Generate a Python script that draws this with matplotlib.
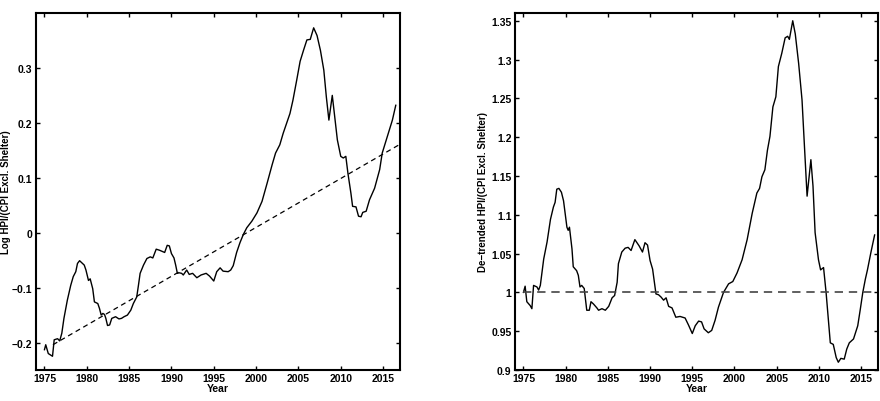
import matplotlib
matplotlib.use('Agg')
import matplotlib.pyplot as plt

# Log HPI / CPI excl. shelter (panel izquierdo)
log_years = [1975.0, 1975.15, 1975.45, 1975.95, 1976.15, 1976.55, 1976.8, 1977.05, 1977.3, 1977.7,
             1978.1, 1978.4, 1978.7, 1978.9, 1979.15, 1979.7, 1979.9, 1980.2, 1980.4, 1980.7,
             1980.9, 1981.3, 1981.5, 1981.7, 1981.9, 1982.1, 1982.25, 1982.45, 1982.7, 1982.95,
             1983.4, 1983.8, 1984.1, 1984.4, 1984.8, 1985.2, 1985.5, 1985.9, 1986.1, 1986.3,
             1986.7, 1987.1, 1987.5, 1987.8, 1988.2, 1988.6, 1989.2, 1989.5, 1989.75, 1990.0,
             1990.3, 1990.5, 1990.7, 1990.9, 1991.2, 1991.4, 1991.8, 1992.1, 1992.5, 1993.0,
             1993.5, 1994.1, 1994.5, 1995.0, 1995.35, 1995.75, 1996.1, 1996.7, 1997.0, 1997.3,
             1997.7, 1998.1, 1998.5, 1998.9, 1999.5, 2000.1, 2000.7, 2001.3, 2001.9, 2002.3,
             2002.8, 2003.2, 2003.6, 2004.0, 2004.35, 2004.8, 2005.2, 2005.6, 2006.0, 2006.4,
             2006.8, 2007.2, 2007.6, 2008.0, 2008.3, 2008.6, 2009.0, 2009.2, 2009.6, 2010.0,
             2010.3, 2010.6, 2010.85, 2011.2, 2011.4, 2011.8, 2012.1, 2012.4, 2012.6, 2013.0,
             2013.4, 2014.0, 2014.6, 2014.9, 2015.5, 2016.1, 2016.5]
log_hpi = [-0.213, -0.204, -0.220, -0.225, -0.195, -0.193, -0.197, -0.183, -0.156, -0.123,
           -0.096, -0.080, -0.071, -0.056, -0.051, -0.059, -0.068, -0.087, -0.084, -0.102,
           -0.126, -0.129, -0.138, -0.150, -0.147, -0.149, -0.156, -0.169, -0.168, -0.156,
           -0.153, -0.157, -0.156, -0.153, -0.150, -0.141, -0.129, -0.117, -0.096, -0.074,
           -0.059, -0.047, -0.044, -0.046, -0.030, -0.032, -0.036, -0.023, -0.024, -0.038,
           -0.046, -0.059, -0.074, -0.073, -0.074, -0.077, -0.068, -0.076, -0.074, -0.082,
           -0.077, -0.074, -0.079, -0.088, -0.071, -0.064, -0.070, -0.071, -0.068, -0.060,
           -0.036, -0.018, -0.003, 0.009, 0.021, 0.036, 0.057, 0.090, 0.124, 0.145,
           0.160, 0.181, 0.199, 0.217, 0.241, 0.278, 0.312, 0.332, 0.351, 0.352,
           0.373, 0.359, 0.332, 0.296, 0.247, 0.205, 0.250, 0.223, 0.169, 0.139,
           0.136, 0.139, 0.108, 0.072, 0.048, 0.047, 0.030, 0.029, 0.037, 0.039,
           0.060, 0.081, 0.115, 0.145, 0.175, 0.205, 0.232]

# Tendencia lineal (extremos de la recta punteada)
trend_years = [1976.0, 2017.0]
trend_vals = [-0.204, 0.161]

# Serie sin tendencia (panel derecho)
det_years = [1975.0, 1975.2, 1975.4, 1975.8, 1976.0, 1976.2, 1976.6, 1976.8, 1977.0, 1977.2,
             1977.4, 1977.8, 1978.2, 1978.55, 1978.75, 1978.95, 1979.2, 1979.5, 1979.75, 1980.15,
             1980.3, 1980.45, 1980.75, 1980.9, 1981.3, 1981.5, 1981.7, 1981.9, 1982.2, 1982.5,
             1982.8, 1983.0, 1983.3, 1983.7, 1983.9, 1984.3, 1984.7, 1985.1, 1985.5, 1985.8,
             1986.1, 1986.25, 1986.65, 1987.05, 1987.4, 1987.75, 1988.2, 1988.7, 1989.1, 1989.4,
             1989.7, 1990.0, 1990.3, 1990.7, 1991.0, 1991.3, 1991.6, 1991.9, 1992.2, 1992.6,
             1993.05, 1993.55, 1994.15, 1994.55, 1995.0, 1995.35, 1995.75, 1996.1, 1996.4, 1996.9,
             1997.3, 1997.7, 1998.1, 1998.7, 1999.3, 1999.8, 2000.3, 2000.9, 2001.5, 2002.1,
             2002.65, 2002.97, 2003.25, 2003.6, 2003.9, 2004.2, 2004.55, 2004.9, 2005.2, 2005.6,
             2006.0, 2006.3, 2006.5, 2006.9, 2007.2, 2007.6, 2008.0, 2008.25, 2008.6, 2009.05,
             2009.3, 2009.55, 2009.95, 2010.2, 2010.55, 2010.85, 2011.35, 2011.7, 2012.05, 2012.3,
             2012.6, 2013.0, 2013.3, 2013.6, 2014.1, 2014.6, 2014.9, 2015.2, 2015.5, 2015.75,
             2016.15, 2016.6]
det_hpi = [1.000, 1.008, 0.988, 0.983, 0.979, 1.009, 1.007, 1.003, 1.009, 1.026,
           1.043, 1.065, 1.094, 1.110, 1.116, 1.133, 1.134, 1.129, 1.118, 1.084,
           1.080, 1.084, 1.056, 1.033, 1.028, 1.022, 1.007, 1.009, 1.005, 0.977,
           0.977, 0.988, 0.985, 0.980, 0.977, 0.979, 0.977, 0.982, 0.993, 0.996,
           1.013, 1.037, 1.052, 1.057, 1.058, 1.054, 1.068, 1.060, 1.052, 1.064,
           1.061, 1.041, 1.030, 0.998, 0.997, 0.994, 0.990, 0.993, 0.982, 0.980,
           0.968, 0.969, 0.967, 0.958, 0.947, 0.957, 0.963, 0.962, 0.953, 0.948,
           0.951, 0.964, 0.981, 1.000, 1.011, 1.014, 1.025, 1.042, 1.068, 1.102,
           1.128, 1.134, 1.149, 1.158, 1.183, 1.201, 1.239, 1.252, 1.291, 1.308,
           1.328, 1.330, 1.326, 1.350, 1.333, 1.295, 1.248, 1.196, 1.124, 1.171,
           1.137, 1.077, 1.042, 1.029, 1.032, 1.000, 0.935, 0.933, 0.916, 0.910,
           0.915, 0.914, 0.927, 0.935, 0.940, 0.957, 0.978, 1.000, 1.017, 1.029,
           1.051, 1.074]

x_ticks = [1975, 1980, 1985, 1990, 1995, 2000, 2005, 2010, 2015]
left_yticks = [-0.2, -0.1, 0, 0.1, 0.2, 0.3]
left_ylabels = ['\u22120.2', '\u22120.1', '0', '0.1', '0.2', '0.3']
right_yticks = [0.9, 0.95, 1, 1.05, 1.1, 1.15, 1.2, 1.25, 1.3, 1.35]
right_ylabels = ['0.9', '0.95', '1', '1.05', '1.1', '1.15', '1.2', '1.25', '1.3', '1.35']

plt.rcParams['font.family'] = ['Liberation Sans', 'DejaVu Sans']
plt.rcParams['font.weight'] = 'bold'

fig = plt.figure(figsize=(8.8, 4.02), dpi=100)
ax1 = fig.add_axes([36/880, 31/402, 364/880, 357/402])
ax2 = fig.add_axes([515/880, 31/402, 363/880, 357/402])

def estilo(ax):
    # caja estilo MATLAB, ticks hacia adentro en los 4 lados
    for s in ax.spines.values():
        s.set_linewidth(1.5)
    ax.tick_params(direction='in', length=3, width=1, top=True, right=True,
                   labelsize=7.5, pad=2.5)
    for lab in ax.get_xticklabels() + ax.get_yticklabels():
        lab.set_fontweight('bold')
    ax.set_xlim(1974, 2017)
    ax.set_xticks(x_ticks)
    ax.set_xlabel('Year', fontsize=7.5, fontweight='bold', labelpad=-0.5)

ax1.plot(log_years, log_hpi, color='black', lw=1.0)
ax1.plot(trend_years, trend_vals, color='black', lw=0.9, dashes=(4, 3))
ax1.set_ylim(-0.25, 0.4)
ax1.set_yticks(left_yticks)
ax1.set_yticklabels(left_ylabels)
ax1.set_ylabel('Log HPI/(CPI Excl. Shelter)', fontsize=7, fontweight='bold', labelpad=0.5)
estilo(ax1)

ax2.plot(det_years, det_hpi, color='black', lw=1.0)
ax2.plot([1975, 2017], [1, 1], color='#444444', lw=1.2, dashes=(5, 3.5))
ax2.set_ylim(0.9, 1.36)
ax2.set_yticks(right_yticks)
ax2.set_yticklabels(right_ylabels)
ax2.set_ylabel('De\u2212trended HPI/(CPI Excl. Shelter)', fontsize=7, fontweight='bold', labelpad=2)
estilo(ax2)

fig.savefig('out.png', dpi=100)
